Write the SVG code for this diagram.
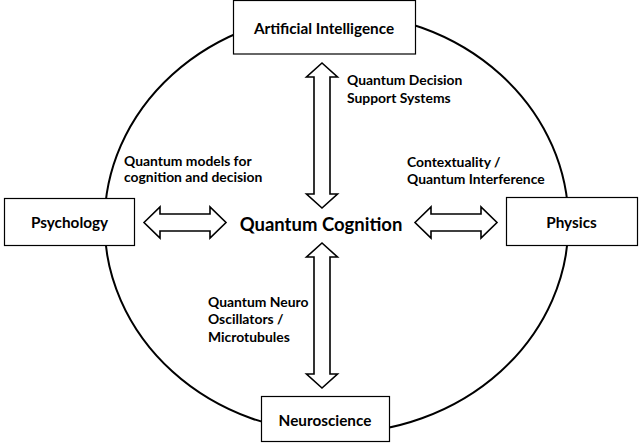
<svg xmlns="http://www.w3.org/2000/svg" width="639" height="443" viewBox="0 0 639 443">
<style>
.box{fill:#fff;stroke:#000;stroke-width:1.2}
.ring{fill:none;stroke:#000;stroke-width:2}
.arr{fill:#fff;stroke:#000;stroke-width:1.6;stroke-linejoin:miter}
text{font-family:Lato,"Liberation Sans",sans-serif;font-weight:bold;fill:#000}
.node{font-size:15.3px;text-anchor:middle}
.lbl{font-size:13.9px}
.core{font-size:18.5px;text-anchor:middle}
</style>
<rect width="639" height="443" fill="#fff"/>
<ellipse class="ring" cx="336.5" cy="223" rx="232" ry="210"/>
<g id="connectors">
<polygon class="arr" points="322,63 337.5,77 330,77 330,194 337.5,194 322,208 306.5,194 314,194 314,77 306.5,77"/>
<polygon class="arr" points="322,243 337.5,257 330,257 330,374 337.5,374 322,388 306.5,374 314,374 314,257 306.5,257"/>
<polygon class="arr" points="144,222.5 160,207 160,214 210,214 210,207 226,222.5 210,238 210,231 160,231 160,238"/>
<polygon class="arr" points="415,222.5 431,207 431,214 481,214 481,207 497,222.5 481,238 481,231 431,231 431,238"/>
<text class="lbl" x="347" y="85">Quantum Decision</text>
<text class="lbl" x="347" y="102.5">Support Systems</text>
<text class="lbl" x="124" y="166">Quantum models for</text>
<text class="lbl" x="124" y="182">cognition and decision</text>
<text class="lbl" x="407" y="166.5">Contextuality /</text>
<text class="lbl" x="407" y="184">Quantum Interference</text>
<text class="lbl" x="208" y="306.5">Quantum Neuro</text>
<text class="lbl" x="208" y="324">Oscillators /</text>
<text class="lbl" x="208" y="341.5">Microtubules</text>
</g>
<g id="ai">
<rect class="box" x="233.5" y="0.5" width="182" height="53.5"/>
<text class="node" x="324" y="33.5">Artificial Intelligence</text>
</g>
<g id="psychology">
<rect class="box" x="4.5" y="198.5" width="130" height="47"/>
<text class="node" x="69.5" y="228">Psychology</text>
</g>
<g id="physics">
<rect class="box" x="506.5" y="197.5" width="131" height="48"/>
<text class="node" x="571.5" y="228">Physics</text>
</g>
<g id="neuroscience">
<rect class="box" x="261.5" y="396.5" width="128" height="45"/>
<text class="node" x="325" y="426">Neuroscience</text>
</g>
<g id="quantum-cognition">
<text class="core" x="321" y="230.7">Quantum Cognition</text>
</g>
</svg>
